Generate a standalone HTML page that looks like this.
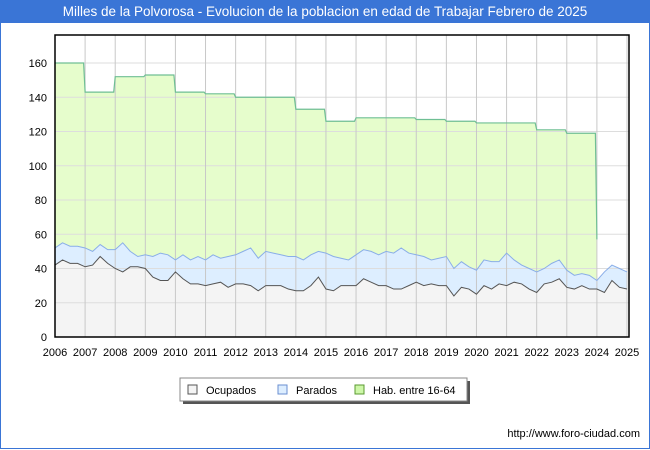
<!DOCTYPE html>
<html><head><meta charset="utf-8"><style>
body{margin:0;width:650px;height:450px;background:#fff;font-family:"Liberation Sans","DejaVu Sans",sans-serif;overflow:hidden;position:relative}
#title{position:absolute;left:0;top:0;width:650px;height:23px;background:#3a75d6;color:#fff;font-size:13.5px;line-height:23px;text-align:center}
#frame{position:absolute;left:0;top:23px;width:648px;height:425px;border:1px solid #3a75d6;border-top:none}
svg{position:absolute;left:0;top:0}
#url{position:absolute;right:10px;top:428px;font-size:11px;color:#000}
</style></head><body>
<div id="title">Milles de la Polvorosa - Evolucion de la poblacion en edad de Trabajar Febrero de 2025</div>
<div id="frame"></div>
<svg id="chart" width="650" height="450"></svg>
<div id="url">http://www.foro-ciudad.com</div>
<script>
const years=[2006,2007,2008,2009,2010,2011,2012,2013,2014,2015,2016,2017,2018,2019,2020,2021,2022,2023,2024,2025];
const yTicks=[0,20,40,60,80,100,120,140,160];
const habYears=[2006,2007,2008,2009,2010,2011,2012,2013,2014,2015,2016,2017,2018,2019,2020,2021,2022,2023];
const habValues=[160,143,152,153,143,142,140,140,133,126,128,128,127,126,125,125,121,119];
const habLast=57;
const ocupados=[42,45,43,43,41,42,47,43,40,38,41,41,40,35,33,33,38,34,31,31,30,31,32,29,31,31,30,27,30,30,30,28,27,27,30,35,28,27,30,30,30,34,32,30,30,28,28,30,32,30,31,30,30,24,29,28,25,30,28,31,30,32,31,28,26,31,32,34,29,28,30,28,28,26,33,29,28];
const parados=[10,10,10,10,11,8,7,8,11,17,9,6,8,12,16,15,7,14,14,16,15,17,14,18,17,19,22,19,20,19,18,19,20,18,18,15,21,20,16,15,18,17,18,18,20,21,24,19,16,17,14,16,17,16,15,13,14,15,16,13,19,13,11,12,12,9,11,11,10,8,7,8,5,12,9,11,10];
const NS="http://www.w3.org/2000/svg";
const svgEl=document.getElementById('chart');
const L=55,R=629,T=35,B=337;
const xs=v=>55+(v-2006)*(627-55)/19;
const ys=v=>B-v*1.7125;
function el(t,a,p){const e=document.createElementNS(NS,t);for(const k in a)e.setAttribute(k,a[k]);(p||svgEl).appendChild(e);return e;}
const pr=el('rect',{x:L,y:T,width:R-L,height:B-T,fill:'#fff'});


let hp=`M${xs(2006)},${ys(0)}`;
let hline='';
habYears.forEach((yr,i)=>{hp+=` L${xs(yr)},${ys(habValues[i])} L${xs(yr+1)-1.5},${ys(habValues[i])}`;hline+=(i?' L':'M')+xs(yr)+','+ys(habValues[i])+' L'+(xs(yr+1)-1.5)+','+ys(habValues[i]);});
hline+=` L${xs(2024)},${ys(habLast)}`;
hp+=` L${xs(2024)},${ys(habLast)} L${xs(2024)},${ys(0)} Z`;
const ha=el('path',{d:hp,fill:'#e6fdcc',stroke:'none'});


const n=ocupados.length;const xq=i=>xs(2006+i/4);
let topPath='',occPath='';
for(let i=0;i<n;i++){topPath+=(i?' L':'M')+xq(i)+','+ys(ocupados[i]+parados[i]);occPath+=(i?' L':'M')+xq(i)+','+ys(ocupados[i]);}
const pa=el('path',{d:topPath+` L${xq(n-1)},${ys(0)} L${xq(0)},${ys(0)} Z`,fill:'#ddeeff'});


const oa=el('path',{d:occPath+` L${xq(n-1)},${ys(0)} L${xq(0)},${ys(0)} Z`,fill:'#f4f4f4'});


yTicks.forEach(t=>{const g=el('line',{x1:L,x2:R,y1:ys(t),y2:ys(t),stroke:'#ddd'});


const tx=el('text',{x:47,y:ys(t)+4,'font-size':11,'text-anchor':'end',fill:'#000'});tx.textContent=t;

});
years.forEach(yr=>{if(yr>2006){const g=el('line',{x1:xs(yr),x2:xs(yr),y1:T,y2:B,stroke:'#c8c8c8'});

}
const tx=el('text',{x:xs(yr),y:356,'font-size':11,'text-anchor':'middle',fill:'#000'});tx.textContent=yr;

});
const hl=el('path',{d:hline,fill:'none',stroke:'#6fbf94','stroke-width':1.2});


const pl=el('path',{d:topPath,fill:'none',stroke:'#8aaee8','stroke-width':1});


const ol=el('path',{d:occPath,fill:'none',stroke:'#555','stroke-width':1});


const fr=el('rect',{x:L,y:T,width:R-L,height:B-T,fill:'none',stroke:'#000','stroke-width':1.5});


const lg=el('g',{});


el('rect',{x:183,y:381,width:287,height:23,fill:'#555'},lg);
el('rect',{x:180,y:378,width:287,height:23,fill:'#fff',stroke:'#888'},lg);
[['Ocupados','#f4f4f4','#555',188],['Parados','#ddeeff','#6a8fd0',278],['Hab. entre 16-64','#cdf7a8','#5a9a30',355]].forEach(([t,f,s,lx])=>{
const g=el('g',{},lg);


el('rect',{x:lx,y:385,width:9,height:9,fill:f,stroke:s},g);
const tx=el('text',{x:lx+18,y:394,'font-size':11,fill:'#000'},g);tx.textContent=t;});
</script>
</body></html>
